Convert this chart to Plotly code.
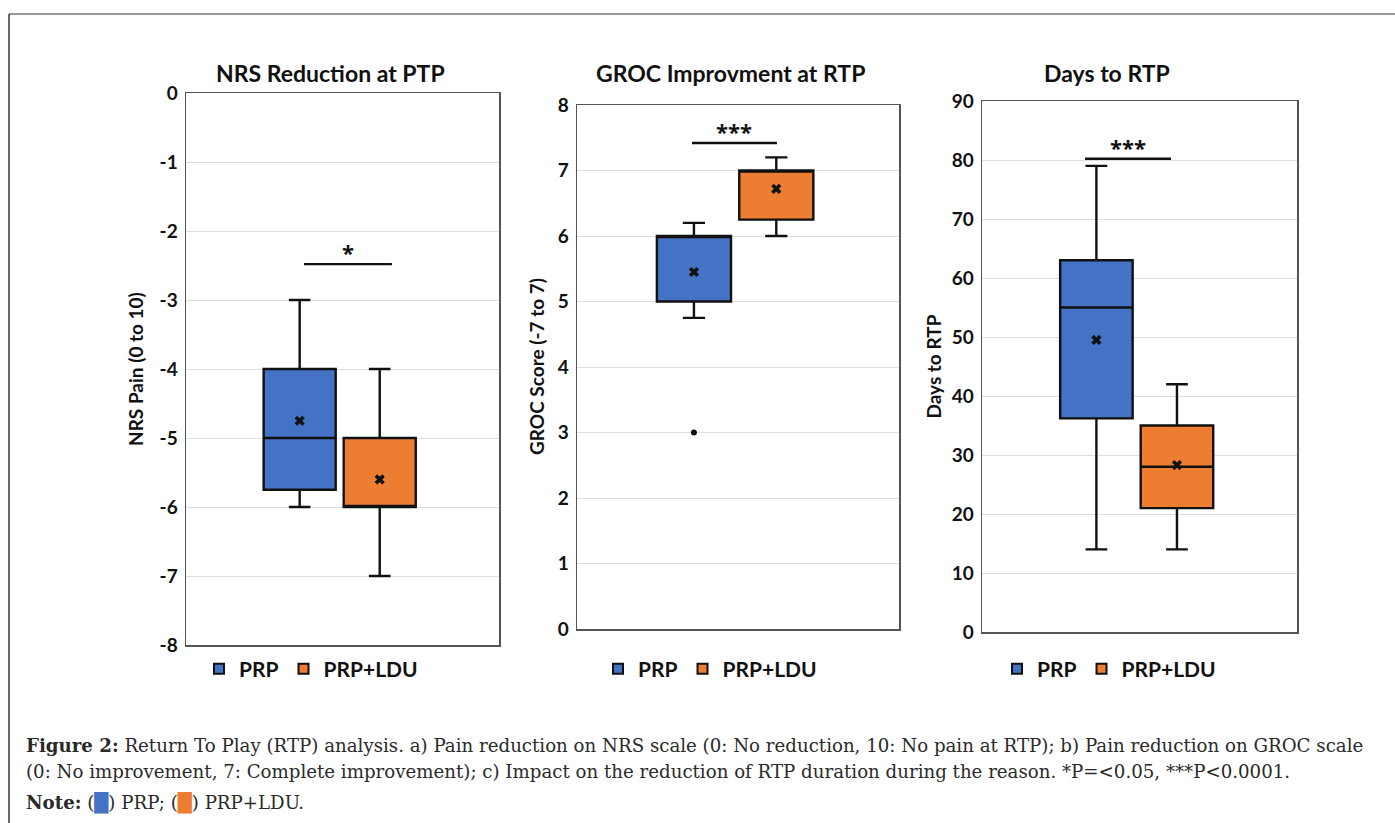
import plotly.graph_objects as go

# ---------------- data ----------------
groups = ["PRP", "PRP+LDU"]
colors = ["#4472C4", "#ED7D31"]

titles = ["NRS Reduction at PTP", "GROC Improvment at RTP", "Days to RTP"]
ytitles = ["NRS Pain (0 to 10)", "GROC Score (-7 to 7)", "Days to RTP"]

# NRS reduction
nrs_low = [-6, -7]
nrs_q1 = [-5.75, -6]
nrs_med = [-5, -6]
nrs_q3 = [-4, -5]
nrs_high = [-3, -4]
nrs_mean = [-4.75, -5.6]
nrs_ticks = [0, -1, -2, -3, -4, -5, -6, -7, -8]
nrs_ticklabels = ["0", "-1", "-2", "-3", "-4", "-5", "-6", "-7", "-8"]

# GROC improvement
groc_low = [4.75, 6]
groc_q1 = [5, 6.25]
groc_med = [6, 7]
groc_q3 = [6, 7]
groc_high = [6.2, 7.2]
groc_mean = [5.45, 6.72]
groc_outlier_group = ["PRP"]
groc_outlier_val = [3]
groc_ticks = [0, 1, 2, 3, 4, 5, 6, 7, 8]
groc_ticklabels = ["0", "1", "2", "3", "4", "5", "6", "7", "8"]

# Days to RTP
days_low = [14, 14]
days_q1 = [36.2, 21]
days_med = [55, 28]
days_q3 = [63, 35]
days_high = [79, 42]
days_mean = [49.5, 28.3]
days_ticks = [0, 10, 20, 30, 40, 50, 60, 70, 80, 90]
days_ticklabels = ["0", "10", "20", "30", "40", "50", "60", "70", "80", "90"]

yranges = [[-8, 0], [0, 8], [0, 90]]
tickvals = [nrs_ticks, groc_ticks, days_ticks]
ticklabels = [nrs_ticklabels, groc_ticklabels, days_ticklabels]
sig_labels = ["*", "***", "***"]
sig_y = [-2.48, 7.42, 80.2]

stats = [
    (nrs_low, nrs_q1, nrs_med, nrs_q3, nrs_high, nrs_mean),
    (groc_low, groc_q1, groc_med, groc_q3, groc_high, groc_mean),
    (days_low, days_q1, days_med, days_q3, days_high, days_mean),
]

# ---------------- layout geometry ----------------
W, H = 1395, 823
px = lambda v: v / W
py = lambda v: 1 - v / H
panels_px = [(186, 499, 93, 645), (577, 899, 105, 629), (982, 1297, 101, 632)]
title_x = [330, 730, 1107]
ytitle_x = [135, 536, 933]
sig_x = [(0.377, 0.658), (0.357, 0.621), (0.327, 0.600)]
legend_x = [311, 710, 1109]

FONT = "Lato, 'Open Sans', sans-serif"
INK = "#111111"
fig = go.Figure()

for i in range(3):
    ax = "" if i == 0 else str(i + 1)
    xa, ya = "x" + ax, "y" + ax
    low, q1, med, q3, high, mean = stats[i]
    for g in range(2):
        fig.add_trace(go.Box(
            x=[groups[g]], q1=[q1[g]], median=[med[g]], q3=[q3[g]],
            lowerfence=[low[g]], upperfence=[high[g]],
            fillcolor=colors[g], line=dict(color=INK, width=2.4),
            whiskerwidth=0.3, width=0.9, boxpoints=False,
            showlegend=False, hoverinfo="skip", xaxis=xa, yaxis=ya,
        ))
    fig.add_trace(go.Scatter(
        x=groups, y=mean, mode="markers",
        marker=dict(symbol="x", size=9, color=INK, line=dict(width=0)),
        showlegend=False, hoverinfo="skip", xaxis=xa, yaxis=ya,
    ))
    if i == 1:
        fig.add_trace(go.Scatter(
            x=groc_outlier_group, y=groc_outlier_val, mode="markers",
            marker=dict(symbol="circle", size=6, color=INK),
            showlegend=False, hoverinfo="skip", xaxis=xa, yaxis=ya,
        ))
    # legend entries
    leg = "legend" if i == 0 else "legend" + str(i + 1)
    for g in range(2):
        fig.add_trace(go.Scatter(
            x=[None], y=[None], mode="markers", name="<b>" + groups[g] + "</b>",
            marker=dict(symbol="square", size=10, color=colors[g],
                        line=dict(color=INK, width=2)),
            legend=leg, xaxis=xa, yaxis=ya,
        ))

    x0, x1, y0, y1 = panels_px[i]
    fig.update_layout(**{
        "xaxis" + ax: dict(
            domain=[px(x0), px(x1)], type="category", categoryarray=groups,
            range=[-1.42, 2.49], showticklabels=False, ticks="",
            showgrid=False, showline=True, mirror=True, linecolor="#555555",
            linewidth=1.5, zeroline=False, anchor=ya, fixedrange=True,
        ),
        "yaxis" + ax: dict(
            domain=[py(y1), py(y0)], range=yranges[i],
            tickmode="array", tickvals=tickvals[i],
            ticktext=["<b>" + t + "</b>" for t in ticklabels[i]],
            showgrid=True, gridcolor="#dedede", gridwidth=1,
            showline=True, mirror=True, linecolor="#555555", linewidth=1.5,
            zeroline=False, ticks="", ticklabelstandoff=3,
            tickfont=dict(family=FONT, size=19, color=INK),
            anchor=xa, fixedrange=True,
        ),
        leg: dict(
            orientation="h", x=px(legend_x[i]), y=py(669), xanchor="center",
            yanchor="middle", font=dict(family=FONT, size=21, color=INK),
            itemwidth=30, tracegroupgap=0, bgcolor="rgba(0,0,0,0)",
        ),
    })

    # titles
    fig.add_annotation(x=px(title_x[i]), y=py(73), xref="paper", yref="paper",
                       text="<b>" + titles[i] + "</b>", showarrow=False,
                       font=dict(family=FONT, size=23, color=INK),
                       xanchor="center", yanchor="middle")
    fig.add_annotation(x=px(ytitle_x[i]), y=(py(y0) + py(y1)) / 2, xref="paper",
                       yref="paper", text="<b>" + ytitles[i] + "</b>",
                       showarrow=False, textangle=-90,
                       font=dict(family=FONT, size=19, color=INK),
                       xanchor="center", yanchor="middle")
    # significance bars
    sx0, sx1 = sig_x[i]
    fig.add_shape(type="line", xref=xa + " domain", yref=ya, x0=sx0, x1=sx1,
                  y0=sig_y[i], y1=sig_y[i], line=dict(color=INK, width=2.4))
    fig.add_annotation(xref=xa + " domain", yref=ya, x=(sx0 + sx1) / 2,
                       y=sig_y[i], text="<b>" + sig_labels[i] + "</b>",
                       showarrow=False, yanchor="bottom", yshift=-5,
                       font=dict(family="'Open Sans', sans-serif", size=22,
                                 color=INK))

# outer frame
fig.add_shape(type="line", xref="paper", yref="paper", x0=px(9), x1=1,
              y0=py(14), y1=py(14), line=dict(color="#777777", width=1.5))
fig.add_shape(type="line", xref="paper", yref="paper", x0=px(9), x1=px(9),
              y0=py(14), y1=0, line=dict(color="#333333", width=1.5))

# caption
CAP = "'DejaVu Serif', 'Liberation Serif', serif"
cap1 = ("<b>Figure 2:</b> Return To Play (RTP) analysis. a) Pain reduction on NRS scale "
        "(0: No reduction, 10: No pain at RTP); b) Pain reduction on GROC scale")
cap2 = ("(0: No improvement, 7: Complete improvement); c) Impact on the reduction of RTP "
        "duration during the reason. *P=&lt;0.05, ***P&lt;0.0001.")
cap3 = ("<b>Note:</b> (<span style='color:#4472C4'>█</span>) PRP; "
        "(<span style='color:#ED7D31'>█</span>) PRP+LDU.")
for txt, yy in [(cap1, 745), (cap2, 771), (cap3, 802)]:
    fig.add_annotation(x=px(24), y=py(yy), xref="paper", yref="paper", text=txt,
                       showarrow=False, xanchor="left", yanchor="middle",
                       font=dict(family=CAP, size=18.2, color="#2a2a2a"))

fig.update_layout(
    width=W, height=H,
    margin=dict(l=0, r=0, t=0, b=0, pad=0, autoexpand=False),
    paper_bgcolor="white", plot_bgcolor="white", boxmode="overlay",
)

fig.write_html("out.html",
               config={"displayModeBar": False, "staticPlot": True},
               post_script="document.body.style.margin='0';"
                           "document.body.style.overflow='hidden';")
